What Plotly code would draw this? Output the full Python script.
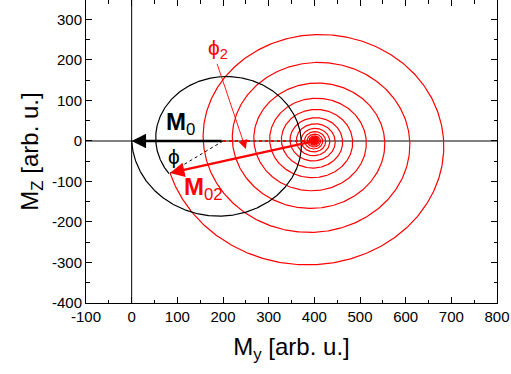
import numpy as np
import plotly.graph_objects as go

# ---- data (arb. u.) ----
x_range = [-100, 800]
y_range = [-400, 348]
x_ticks = [-100, 0, 100, 200, 300, 400, 500, 600, 700, 800]
y_ticks = [-400, -300, -200, -100, 0, 100, 200, 300]
x_tick_text = ["-100", "0", "100", "200", "300", "400", "500", "600", "700", "800"]
y_tick_text = ["-400", "-300", "-200", "-100", "0", "100", "200", "300"]

m0_tail = [200, 0]          # black precession centre / tail of M0
m0_head = [0, 0]            # tip of M0
m02_tail = [400, 0]         # red precession centre / tail of M02
m02_head = [84, -79]        # tip of M02

black_decay_half_turn = 0.858   # radius ratio per half turn (black)
red_decay_half_turn = 0.859     # radius ratio per half turn (red)
red_turns = 18

phi2_arrow_tail = [186, 194]
phi2_arrow_head = [250, -20]
phi2_text_pos = [188, 228]
phi_text_pos = [93, -38]
m0_text_pos = [108, 42]
m02_text_pos = [158, -118]


def spiral(center, start, q_half, end=None, turns=None, n=4000):
    cx, cy = center
    dx, dy = start[0] - cx, start[1] - cy
    r0 = np.hypot(dx, dy)
    th0 = np.arctan2(dy, dx)
    if th0 < 0:
        th0 += 2 * np.pi
    if end is not None:
        ex, ey = end[0] - cx, end[1] - cy
        th1 = np.arctan2(ey, ex)
        while th1 <= th0 + np.pi:
            th1 += 2 * np.pi
    else:
        th1 = th0 + 2 * np.pi * turns
    th = np.linspace(th0, th1, n)
    r = r0 * q_half ** ((th - th0) / np.pi)
    return cx + r * np.cos(th), cy + r * np.sin(th)


bx, by = spiral(m0_tail, m0_head, black_decay_half_turn, end=m02_head, n=1500)
rx, ry = spiral(m02_tail, m02_head, red_decay_half_turn, turns=red_turns, n=8000)

fig = go.Figure()

# zero lines
fig.add_trace(go.Scatter(x=x_range, y=[0, 0], mode="lines",
                         line=dict(color="#808080", width=2), hoverinfo="skip"))
fig.add_trace(go.Scatter(x=[0, 0], y=y_range, mode="lines",
                         line=dict(color="black", width=1), hoverinfo="skip"))

fig.add_trace(go.Scatter(x=rx, y=ry, mode="lines",
                         line=dict(color="#ff0000", width=1.2), hoverinfo="skip"))
fig.add_trace(go.Scatter(x=bx, y=by, mode="lines",
                         line=dict(color="black", width=1.2), hoverinfo="skip"))

# dotted helpers
fig.add_trace(go.Scatter(x=[m0_tail[0], m02_tail[0]], y=[m0_tail[1], m02_tail[1]],
                         mode="lines", line=dict(color="#ff0000", width=2, dash="dot"),
                         hoverinfo="skip"))
fig.add_trace(go.Scatter(x=[m0_tail[0], m02_head[0]], y=[m0_tail[1], m02_head[1]],
                         mode="lines", line=dict(color="black", width=1, dash="dot"),
                         hoverinfo="skip"))

font = "Arial, Liberation Sans, sans-serif"
ann = []
# M0 arrow
ann.append(dict(x=m0_head[0], y=m0_head[1], ax=m0_tail[0], ay=m0_tail[1],
                xref="x", yref="y", axref="x", ayref="y", text="", showarrow=True,
                arrowhead=2, arrowsize=1.2, arrowwidth=2.4, arrowcolor="black", standoff=0))
# M02 arrow
ann.append(dict(x=m02_head[0], y=m02_head[1], ax=m02_tail[0], ay=m02_tail[1],
                xref="x", yref="y", axref="x", ayref="y", text="", showarrow=True,
                arrowhead=2, arrowsize=1.2, arrowwidth=2.4, arrowcolor="#ff0000", standoff=0))
# phi2 arrow
ann.append(dict(x=phi2_arrow_head[0], y=phi2_arrow_head[1], ax=phi2_arrow_tail[0],
                ay=phi2_arrow_tail[1], xref="x", yref="y", axref="x", ayref="y", text="",
                showarrow=True, arrowhead=2, arrowsize=2.0, arrowwidth=0.9,
                arrowcolor="#ff0000", standoff=0))
ann.append(dict(x=phi2_text_pos[0], y=phi2_text_pos[1], xref="x", yref="y",
                text="ϕ<sub>2</sub>", showarrow=False,
                font=dict(family=font, size=21, color="#ff0000")))
ann.append(dict(x=phi_text_pos[0], y=phi_text_pos[1], xref="x", yref="y",
                text="ϕ", showarrow=False, font=dict(family=font, size=21, color="black")))
ann.append(dict(x=m0_text_pos[0], y=m0_text_pos[1], xref="x", yref="y",
                text="<b>M</b><sub>0</sub>", showarrow=False,
                font=dict(family=font, size=24, color="black")))
ann.append(dict(x=m02_text_pos[0], y=m02_text_pos[1], xref="x", yref="y",
                text="<b>M</b><sub>02</sub>", showarrow=False,
                font=dict(family=font, size=24, color="#ff0000")))

axis_common = dict(showgrid=False, zeroline=False, showline=True, linecolor="black",
                   linewidth=1, mirror="ticks", ticks="inside", ticklen=6, tickwidth=1,
                   tickcolor="black", tickfont=dict(family=font, size=15, color="black"),
                   minor=dict(ticks="inside", ticklen=3.5, tickwidth=1, tickcolor="black"))

fig.update_layout(
    width=511, height=374,
    margin=dict(l=86, r=14, t=0, b=71),
    plot_bgcolor="white", paper_bgcolor="white",
    showlegend=False,
    annotations=ann,
    xaxis=dict(range=x_range, tickvals=x_ticks, ticktext=x_tick_text, minor_dtick=50,
               title=dict(text="M<sub>y</sub> [arb. u.]", standoff=14,
                          font=dict(family=font, size=24, color="black")),
               **axis_common),
    yaxis=dict(range=y_range, tickvals=y_ticks, ticktext=y_tick_text, minor_dtick=50,
               title=dict(text="M<sub>Z</sub> [arb. u.]", standoff=6,
                          font=dict(family=font, size=24, color="black")),
               **axis_common),
)

fig.write_html("out.html")
